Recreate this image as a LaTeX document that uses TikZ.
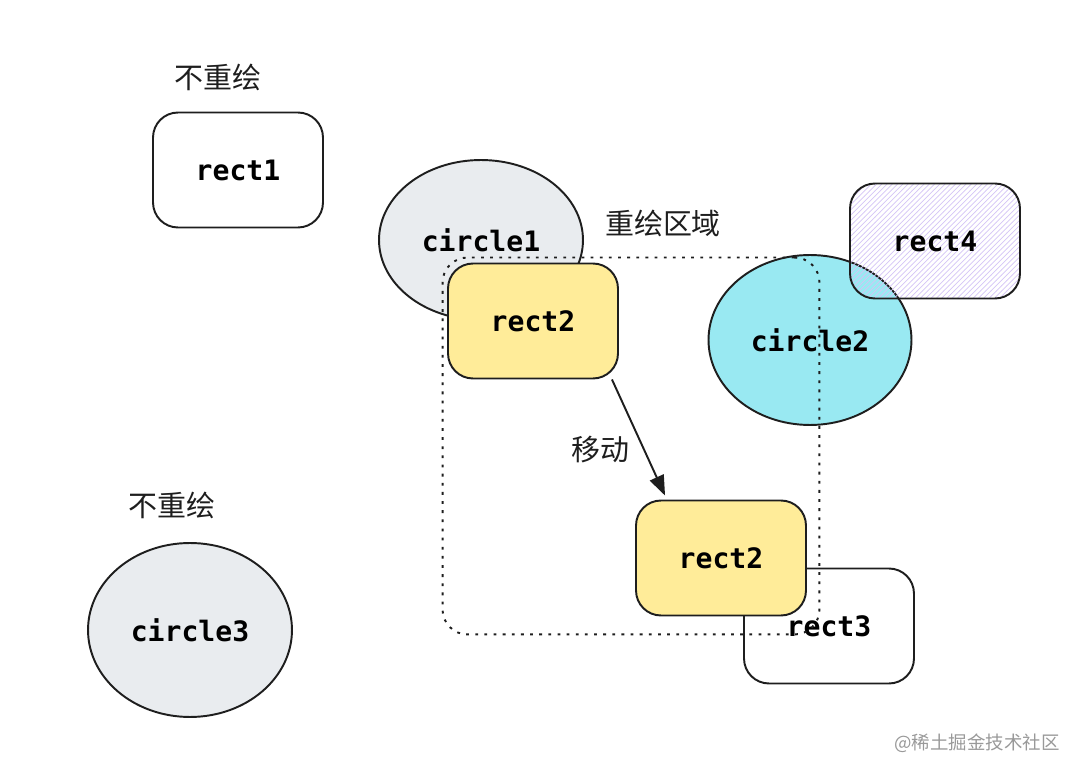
\documentclass[tikz,border=0pt]{standalone}
\usepackage{fontspec}
\setmonofont{DejaVu Sans Mono}
\newfontfamily\cjk{Noto Sans CJK SC}
\usetikzlibrary{positioning,shapes.geometric,arrows.meta,patterns}

\definecolor{ink}{HTML}{1E1E1E}
\definecolor{greyfill}{HTML}{E9ECEF}
\definecolor{yellowfill}{HTML}{FFEC99}
\definecolor{cyanfill}{HTML}{99E9F2}
\definecolor{hatch}{HTML}{D4C4F5}

\begin{document}
\begin{tikzpicture}[x=0.02cm, y=-0.02cm,
        shapebox/.style={rectangle, rounded corners=0.5cm, draw=ink, line width=1.1pt, minimum width=3.4cm, minimum height=2.3cm, font=\fontsize{16}{19}\ttfamily\bfseries},
        blob/.style={ellipse, draw=ink, line width=1.1pt, fill=greyfill, minimum width=4.08cm, minimum height=3.2cm, font=\fontsize{16}{19}\ttfamily\bfseries},
        note/.style={font=\cjk\fontsize{16.5}{20}\selectfont, text=ink},
        region/.style={draw=ink, line width=1.1pt, dash pattern=on 1.6pt off 3.6pt, rounded corners=0.5cm, minimum width=7.54cm, minimum height=7.54cm},
        move/.style={-{Triangle[length=0.4cm, width=0.3cm]}, draw=ink, line width=1.1pt}
    ]
    \useasboundingbox (0,0) rectangle (1080,776);

    \node[blob] (circle1) at (481,240) {circle1};
    \node[shapebox, fill=white] (rect1) at (238,170) {rect1};
    \node[blob, minimum height=3.48cm] (circle3) at (190,630) {circle3};
    \node[blob, fill=cyanfill, minimum width=4.06cm, minimum height=3.4cm] (circle2) at (810,340) {circle2};
    \node[shapebox, pattern=north east lines, pattern color=hatch] (rect4) at (935,241) {rect4};
    \node[shapebox, fill=white] (rect3) at (829,626) {rect3};

    \node[region] (redraw) at (631,446) {};

    \node[shapebox, fill=yellowfill] (rect2a) at (533,321) {rect2};
    \node[shapebox, fill=yellowfill] (rect2b) at (721,558) {rect2};

    \draw[move] ([xshift=-0.14cm]rect2a.south east) -- ([xshift=0.6cm, yshift=0.08cm]rect2b.north west);

    \node[note] (keep1) at (218,77) {不重绘};
    \node[note] (keep2) at (172,505) {不重绘};
    \node[note] (area) at (663,223) {重绘区域};
    \node[note] (movetext) at (600,450) {移动};

    \node[font=\cjk\fontsize{10.5}{12}\selectfont, text=black!40] (mark) at (977,743) {@稀土掘金技术社区};
\end{tikzpicture}
\end{document}
